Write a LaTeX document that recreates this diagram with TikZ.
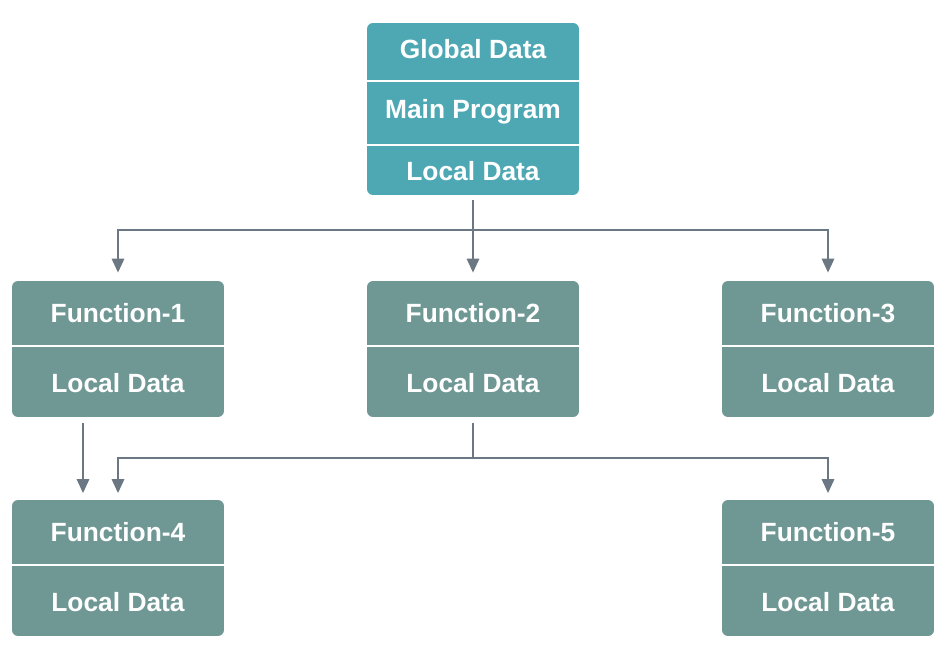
\documentclass[tikz,border=0pt]{standalone}
\usepackage{fontspec}
\setmainfont{Liberation Sans}
\usetikzlibrary{arrows.meta}
\definecolor{maincol}{HTML}{4EA8B4}
\definecolor{funccol}{HTML}{6F9895}
\definecolor{linecol}{HTML}{6B7783}
\tikzset{
  box/.style={rectangle, rounded corners=3.4pt, minimum width=4.24cm, inner sep=0pt},
  mainbox/.style={box, fill=maincol, minimum height=3.44cm},
  funcbox/.style={box, fill=funccol, minimum height=2.72cm},
  txt/.style={text=white, inner sep=0pt, text height=10.7pt, text depth=0pt,
    font=\bfseries\fontsize{15}{18}\selectfont},
  sep/.style={draw=white, line width=1.4pt},
  line/.style={draw=linecol, line width=1.3pt},
  arr/.style={line, -{Triangle[width=7pt,length=8pt]}}
}
\begin{document}
\begin{tikzpicture}[x=0.02cm, y=-0.02cm]
  \useasboundingbox (0,0) rectangle (949,656);
  % boxes
  \node[mainbox] (main) at (473,109) {};
  \node[funcbox] (f1) at (118,349) {};
  \node[funcbox] (f2) at (473,349) {};
  \node[funcbox] (f3) at (828,349) {};
  \node[funcbox] (f4) at (118,568) {};
  \node[funcbox] (f5) at (828,568) {};
  % dividers
  \draw[sep] (main.west |- 0,81) -- (main.east |- 0,81);
  \draw[sep] (main.west |- 0,145) -- (main.east |- 0,145);
  \draw[sep] (f1.west |- 0,346) -- (f1.east |- 0,346);
  \draw[sep] (f2.west |- 0,346) -- (f2.east |- 0,346);
  \draw[sep] (f3.west |- 0,346) -- (f3.east |- 0,346);
  \draw[sep] (f4.west |- 0,565) -- (f4.east |- 0,565);
  \draw[sep] (f5.west |- 0,565) -- (f5.east |- 0,565);
  % texts
  \node[txt] (mainglobal) at (473,49) {Global Data};
  \node[txt] (mainprog) at (473,109) {Main Program};
  \node[txt] (mainlocal) at (473,171) {Local Data};
  \node[txt] (f1name) at (118,313) {Function-1};
  \node[txt] (f1local) at (118,383) {Local Data};
  \node[txt] (f2name) at (473,313) {Function-2};
  \node[txt] (f2local) at (473,383) {Local Data};
  \node[txt] (f3name) at (828,313) {Function-3};
  \node[txt] (f3local) at (828,383) {Local Data};
  \node[txt] (f4name) at (118,532) {Function-4};
  \node[txt] (f4local) at (118,602) {Local Data};
  \node[txt] (f5name) at (828,532) {Function-5};
  \node[txt] (f5local) at (828,602) {Local Data};
  % connectors
  \coordinate (split1) at (473,230);
  \coordinate (split2) at (473,458);
  \draw[line] ([yshift=-0.1cm]main.south) -- (split1);
  \draw[arr] (split1) -- ([yshift=0.16cm]f2.north);
  \draw[arr] (split1) -| ([yshift=0.16cm]f1.north);
  \draw[arr] (split1) -| ([yshift=0.16cm]f3.north);
  \draw[arr] ([xshift=-0.7cm,yshift=-0.12cm]f1.south) -- ([xshift=-0.7cm,yshift=0.13cm]f4.north);
  \draw[line] ([yshift=-0.12cm]f2.south) -- (split2);
  \draw[arr] (split2) -| ([yshift=0.13cm]f4.north);
  \draw[arr] (split2) -| ([yshift=0.13cm]f5.north);
\end{tikzpicture}
\end{document}
